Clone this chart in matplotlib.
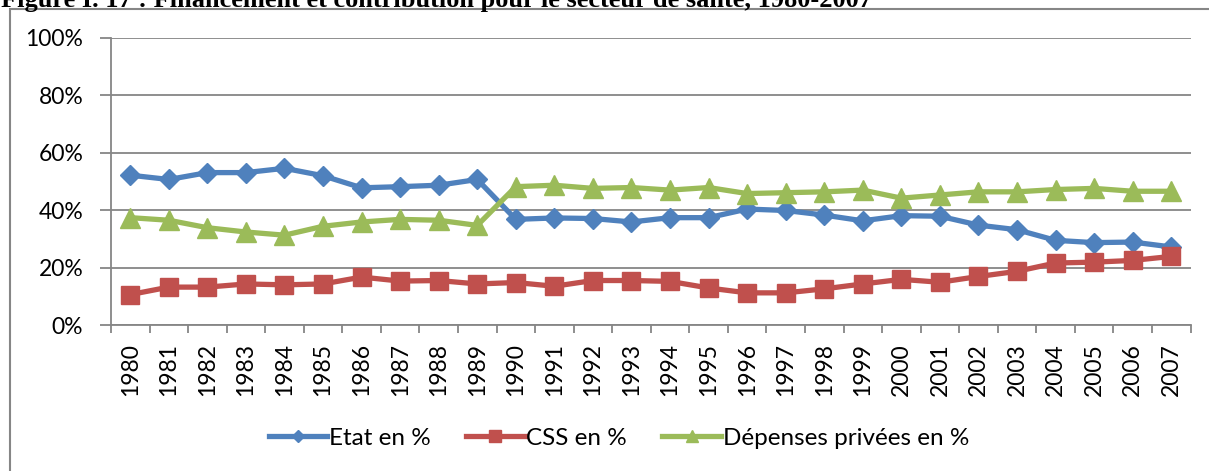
import matplotlib
matplotlib.use("Agg")
import matplotlib.pyplot as plt
from matplotlib.patches import Rectangle

plt.rcParams['font.family'] = ['Lato', 'DejaVu Sans']

years = [str(y) for y in range(1980, 2008)]

etat = [52.2, 50.7, 53.1, 53.1, 54.6, 52.0, 47.8, 48.2, 48.7, 50.7,
        36.8, 37.3, 37.1, 35.9, 37.4, 37.4, 40.4, 39.9, 38.3, 36.3,
        38.1, 37.9, 34.8, 33.2, 29.5, 28.7, 28.9, 27.2]
css = [10.6, 13.2, 13.2, 14.3, 14.0, 14.3, 16.7, 15.3, 15.5, 14.3,
       14.8, 13.5, 15.5, 15.5, 15.2, 12.9, 11.2, 11.2, 12.6, 14.3,
       15.9, 14.9, 16.9, 18.7, 21.6, 21.9, 22.5, 23.9]
privees = [37.4, 36.5, 33.9, 32.4, 31.3, 34.4, 35.9, 36.8, 36.5, 34.7,
           48.2, 48.7, 47.6, 47.9, 47.0, 47.9, 45.8, 46.1, 46.4, 47.0,
           44.2, 45.3, 46.4, 46.4, 47.2, 47.6, 46.6, 46.6]

series = [
    ("Etat en %", etat, '#4F81BD', 'D', 10),
    ("CSS en %", css, '#C0504D', 's', 13),
    ("Dépenses privées en %", privees, '#9BBB59', '^', 14),
]

fig = plt.figure(figsize=(12.09, 4.71), dpi=100)
ax = fig.add_axes([111 / 1209, 1 - 325 / 471, (1190.5 - 111) / 1209, (325 - 38) / 471])

# Outer chart frame (clipped on right/bottom like the reference)
fig.patches.append(Rectangle((10 / 1209, -0.05), 1.05, 1 - 9 / 471 + 0.05,
                             transform=fig.transFigure, fill=False,
                             edgecolor='#868686', linewidth=1.5))

# Title, cut off by the top edge as in the reference
fig.text(0.001, 1 - 6.5 / 471,
         "Figure I. 17 : Financement et contribution pour le secteur de santé, 1980-2007",
         family='Liberation Serif', fontweight='bold', fontsize=19, va='baseline', ha='left')

x = list(range(len(years)))
for label, vals, color, marker, ms in series:
    ax.plot(x, vals, color=color, linewidth=3.8, marker=marker, markersize=ms,
            markeredgecolor=color, label=label, zorder=3, solid_joinstyle='round')

grid_color = '#868686'
ax.set_xlim(-0.5, len(years) - 0.5)
ax.set_ylim(0, 100)
ax.set_yticks([0, 20, 40, 60, 80, 100])
ax.set_yticklabels(['0%', '20%', '40%', '60%', '80%', '100%'])
ax.yaxis.grid(True, color=grid_color, linewidth=1.3)
ax.set_axisbelow(True)

ax.set_xticks([i - 0.5 for i in range(len(years) + 1)])
ax.set_xticklabels([])
ax.set_xticks(x, minor=True)
ax.set_xticklabels(years, minor=True, rotation=90)
ax.tick_params(axis='x', which='major', length=6, color=grid_color, width=1.3, direction='out')
ax.tick_params(axis='x', which='minor', length=0, pad=13, labelsize=16.5)
ax.tick_params(axis='y', length=8, color=grid_color, width=1.3, pad=12, labelsize=16.5)

for side in ['top', 'right']:
    ax.spines[side].set_visible(False)
for side in ['left', 'bottom']:
    ax.spines[side].set_color(grid_color)
    ax.spines[side].set_linewidth(1.3)

fig.legend(loc='center', bbox_to_anchor=(0.512, 1 - 438 / 471), ncol=3, frameon=False,
           fontsize=17.5, handlelength=2.4, handletextpad=0.08, columnspacing=1.45,
           markerscale=0.65)

fig.savefig('out.png', dpi=100)
